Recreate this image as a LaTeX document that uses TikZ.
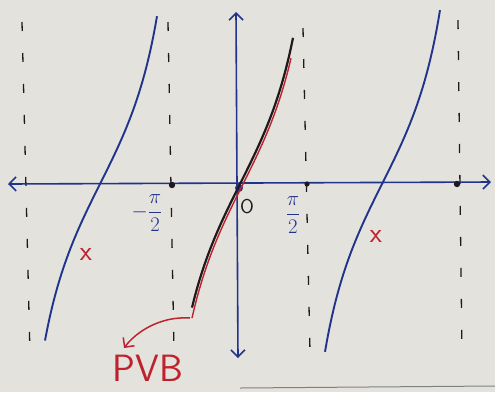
\documentclass[tikz,border=0pt]{standalone}
\usepackage{fontspec}
\usetikzlibrary{arrows.meta}
\definecolor{ink}{RGB}{32,52,140}
\definecolor{redink}{RGB}{190,35,45}
\definecolor{paper}{RGB}{228,226,220}
\definecolor{blk}{RGB}{30,25,30}
\begin{document}
\begin{tikzpicture}[x=1pt,y=-1pt,
  axisline/.style={ink,line width=1.6pt},
  asym/.style={blk,line width=1.3pt,dash pattern=on 9pt off 22pt},
  branch/.style={ink,line width=1.9pt},
  lbl/.style={ink,font=\fontsize{20}{24}\selectfont},
  redmark/.style={redink,font=\sffamily\fontsize{28}{30}\selectfont}]
\fill[paper] (0,0) rectangle (495,392);
\useasboundingbox (0,0) rectangle (495,392);
% asymptotes
\draw[asym] (22,22) -- (30,355);
\draw[asym] (168,22) -- (174,352);
\draw[asym] (303,28) -- (310,352);
\draw[asym] (458,20) -- (462,355);
% axes
\coordinate (xl) at (8,184);
\coordinate (xr) at (491,182);
\coordinate (yt) at (236,12);
\coordinate (yb) at (238,358);
\draw[axisline,{Straight Barb[length=7pt,width=14pt]}-{Straight Barb[length=7pt,width=14pt]}] (xl) -- (xr);
\draw[axisline,{Straight Barb[length=7pt,width=14pt]}-{Straight Barb[length=7pt,width=14pt]}] (yb) -- (yt);
% dots
\fill[blk] (172,185) circle (3.2pt);
\fill[blk] (307,184) circle (2.6pt);
\fill[blk] (457,184) circle (3.2pt);
\fill[ink] (239,188) circle (4pt);
% branches
\draw[branch] plot[domain=-55:57,samples=60,smooth] ({100+\x},{184-120*tan(\x/60 r)});
\draw[branch] plot[domain=-57:58,samples=60,smooth] ({382+\x},{184-120*tan(\x/60 r)});
\draw[blk,line width=2.2pt] plot[domain=-48:53,samples=60,smooth] ({240+\x},{184-120*tan(\x/60 r)});
\draw[redink,line width=1.4pt] plot[domain=-50:49,samples=60,smooth] ({242+\x},{186-120*tan(\x/60 r)});
% labels
\node[lbl] (mpi) at (147,213) {$\displaystyle-\frac{\pi}{2}$};
\node[lbl] (ppi) at (293,215) {$\displaystyle\frac{\pi}{2}$};
\node[blk,font=\sffamily\fontsize{20}{22}\selectfont] (o) at (247,207) {O};
\node[redmark] (x1) at (86,254) {x};
\node[redmark] (x2) at (376,236) {x};
\node[redink,font=\sffamily\fontsize{38}{40}\selectfont] (pvb) at (148,368) {PVB};
\coordinate (pt) at (190,318);
\coordinate (ph) at (124,348);
\draw[redink,line width=1.5pt,-{Straight Barb[length=7pt,width=14pt]}] (pt) .. controls (160,316) and (136,332) .. (ph);
\draw[gray,line width=1pt] (240,388) -- (495,386);
\end{tikzpicture}
\end{document}
